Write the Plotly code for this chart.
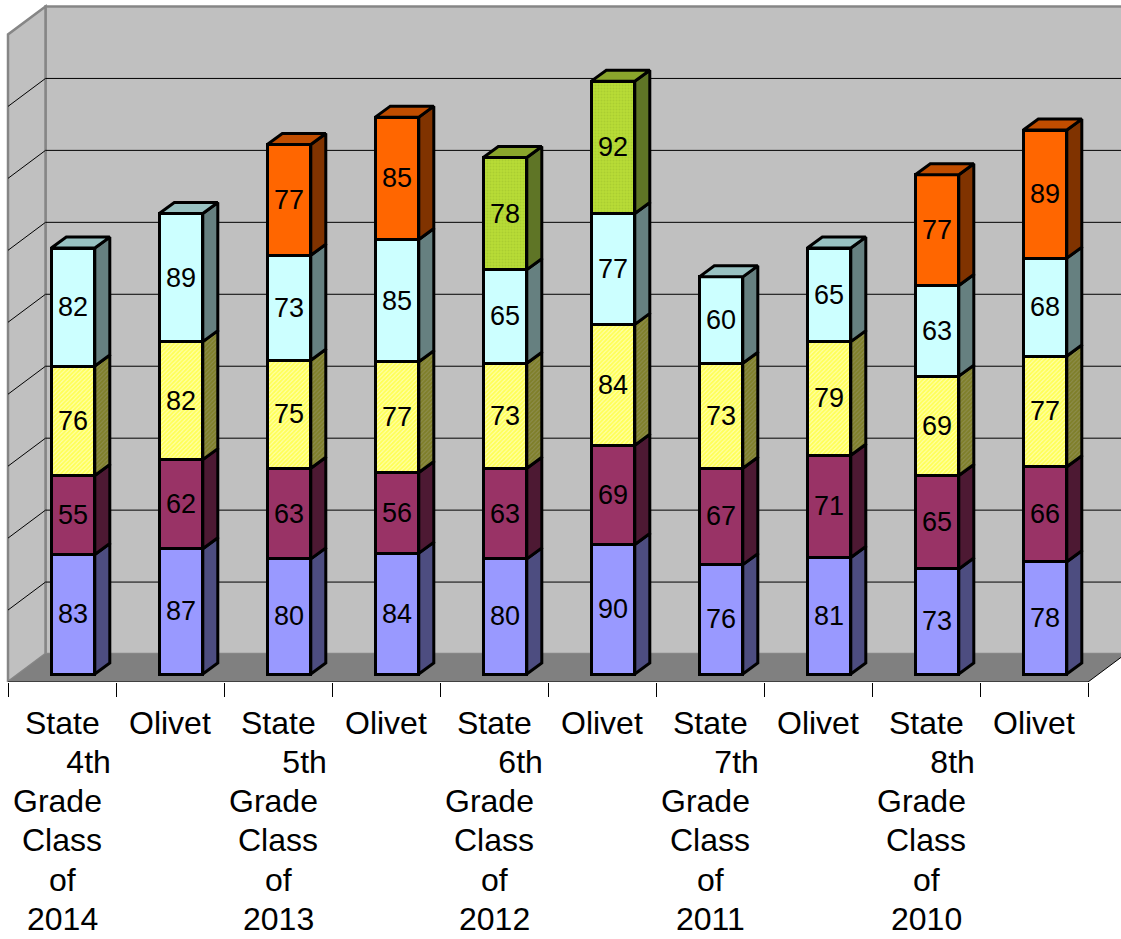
import plotly.graph_objects as go

# Axis label lines for the ten class/source slots
NB = "\u00a0" * 6
GRADE = "Grade\u00a0"
categories = [
    ["State", NB + "4th", GRADE, "Class", "of", "2014"], ["Olivet"],
    ["State", NB + "5th", GRADE, "Class", "of", "2013"], ["Olivet"],
    ["State", NB + "6th", GRADE, "Class", "of", "2012"], ["Olivet"],
    ["State", NB + "7th", GRADE, "Class", "of", "2011"], ["Olivet"],
    ["State", NB + "8th", GRADE, "Class", "of", "2010"], ["Olivet"],
]

# Stacked scores, bottom to top
blue = [83, 87, 80, 84, 80, 90, 76, 81, 73, 78]
plum = [55, 62, 63, 56, 63, 69, 67, 71, 65, 66]
yellow = [76, 82, 75, 77, 73, 84, 73, 79, 69, 77]
cyan = [82, 89, 73, 85, 65, 77, 60, 65, 63, 68]
orange = [None, None, 77, 85, None, None, None, None, 77, 89]
green = [None, None, None, None, 78, 92, None, None, None, None]

series = [
    dict(values=blue, front="#9999FF", side="#4D4D80", top="#7A7ACC"),
    dict(values=plum, front="#993366", side="#4D1933", top="#7A2952"),
    dict(values=yellow, front="#FFFF66", side="#808040", top="#CCCC66",
         pattern=dict(shape="/", size=3, solidity=0.65, fgcolor="#FFFF00", bgcolor="#FFFFB0"),
         side_pattern=dict(shape="/", size=3, solidity=0.7, fgcolor="#707000", bgcolor="#8F8F55")),
    dict(values=cyan, front="#CCFFFF", side="#668080", top="#99C2C2"),
    dict(values=orange, front="#FF6600", side="#803300", top="#C04D00"),
    dict(values=green, front="#B2D633", side="#5F7526", top="#8AA52C",
         pattern=dict(shape=".", size=3, solidity=0.35, fgcolor="#9DC02C", bgcolor="#B7DC36")),
]

# Scale of the plot: pixels per category slot and per score unit
W, H = 1121, 939
SLOT = 108.0
UNIT = 1.44
AXIS_PX = 682.5
ZERO_PX = 674.5
LEFT_PX = 8.0

# Oblique projection of the box and of each column
WALL_DX = 37.5 / SLOT
WALL_DY = 28.0 / UNIT
BAR_DX = 15.0 / SLOT
BAR_DY = 11.0 / UNIT
BAR_OFFSET = -10.7 / SLOT
BAR_WIDTH = 43.5 / SLOT
Y_MAX = 450
GRID_STEP = 50

# Axis label layout
LABEL_FIRST_PX = 723.5
LABEL_STEP_PX = 39.2
LABEL_SIZE = 32

x_lo = -0.5 - LEFT_PX / SLOT
x_hi = -0.5 + (W - LEFT_PX) / SLOT
y_lo = (ZERO_PX - AXIS_PX) / UNIT
y_hi = ZERO_PX / UNIT
front_y = y_lo
back_y = front_y + WALL_DY
x0, x1 = -0.5, 9.5


def path(points):
    return "M " + " L ".join(f"{x:.4f},{y:.4f}" for x, y in points) + " Z"


wall_line = dict(color="#868686", width=2.5)
shapes = [
    # back wall, left wall, floor
    dict(type="path", layer="below", fillcolor="#C0C0C0", line=wall_line,
         path=path([(x0 + WALL_DX, back_y), (x0 + WALL_DX, back_y + Y_MAX),
                    (x1 + WALL_DX, back_y + Y_MAX), (x1 + WALL_DX, back_y)])),
    dict(type="path", layer="below", fillcolor="#C0C0C0", line=wall_line,
         path=path([(x0, front_y), (x0, front_y + Y_MAX),
                    (x0 + WALL_DX, back_y + Y_MAX), (x0 + WALL_DX, back_y)])),
    dict(type="path", layer="below", fillcolor="#808080", line=dict(width=0),
         path=path([(x0, front_y), (x1, front_y),
                    (x1 + WALL_DX, back_y), (x0 + WALL_DX, back_y)])),
    dict(type="line", layer="below", x0=x1, y0=front_y, x1=x1 + WALL_DX, y1=back_y,
         line=dict(color="#000000", width=1)),
    dict(type="line", layer="below", x0=x0, x1=x1, y0=front_y, y1=front_y,
         line=dict(color="#000000", width=1)),
]
# Gridlines run along the back wall and down the left wall
for v in range(GRID_STEP, Y_MAX, GRID_STEP):
    shapes.append(dict(type="line", layer="below", x0=x0 + WALL_DX, x1=x1 + WALL_DX,
                       y0=back_y + v, y1=back_y + v, line=dict(color="#000000", width=1)))
    shapes.append(dict(type="line", layer="below", x0=x0, x1=x0 + WALL_DX,
                       y0=front_y + v, y1=back_y + v, line=dict(color="#000000", width=1)))

fig = go.Figure()
slots = list(range(len(blue)))

for s in series:
    fig.add_trace(go.Bar(
        x=slots, y=s["values"], offset=BAR_OFFSET, width=BAR_WIDTH,
        marker=dict(color=s["front"], line=dict(color="black", width=3),
                    pattern=s.get("pattern", dict(shape=""))),
        texttemplate="%{y}", textposition="inside", insidetextanchor="middle",
        textangle=0, constraintext="none",
        insidetextfont=dict(family="Liberation Sans", size=27, color="black"),
        hoverinfo="skip", showlegend=False,
    ))

# Side and top faces follow the same cumulative stack as the bars
totals = [0.0] * len(blue)
column_tops = {}
for s in series:
    xs, ys = [], []
    for i, v in enumerate(s["values"]):
        if v is None:
            continue
        lo, hi = totals[i], totals[i] + v
        totals[i] = hi
        right = i + BAR_OFFSET + BAR_WIDTH
        xs += [right, right + BAR_DX, right + BAR_DX, right, right, None]
        ys += [lo, lo + BAR_DY, hi + BAR_DY, hi, lo, None]
        column_tops[i] = (s, hi)
    extra = dict(fillpattern=s["side_pattern"]) if "side_pattern" in s else {}
    fig.add_trace(go.Scatter(x=xs, y=ys, mode="lines", fill="toself", fillcolor=s["side"],
                             line=dict(color="black", width=3), hoverinfo="skip",
                             showlegend=False, cliponaxis=False, **extra))

for i, (s, hi) in column_tops.items():
    left = i + BAR_OFFSET
    right = left + BAR_WIDTH
    fig.add_trace(go.Scatter(
        x=[left, right, right + BAR_DX, left + BAR_DX, left],
        y=[hi, hi, hi + BAR_DY, hi + BAR_DY, hi],
        mode="lines", fill="toself", fillcolor=s["top"],
        line=dict(color="black", width=3), hoverinfo="skip", showlegend=False,
    ))

# Category labels are stacked line by line at a fixed leading
annotations = []
for i, lines in enumerate(categories):
    for k, line in enumerate(lines):
        py = LABEL_FIRST_PX + k * LABEL_STEP_PX
        annotations.append(dict(
            x=i, xref="x", y=(AXIS_PX - py) / AXIS_PX, yref="paper",
            text=line, showarrow=False, xanchor="center", yanchor="middle",
            font=dict(family="Liberation Sans", size=LABEL_SIZE, color="black"),
        ))

fig.update_layout(
    width=W, height=H, margin=dict(l=0, r=0, t=0, b=H - AXIS_PX, pad=0),
    paper_bgcolor="white", plot_bgcolor="white",
    barmode="stack", shapes=shapes, annotations=annotations, showlegend=False,
    xaxis=dict(
        range=[x_lo, x_hi], showgrid=False, zeroline=False, showline=False,
        tickmode="array", tickvals=slots, showticklabels=False, ticks="",
        minor=dict(tickmode="array", tickvals=[k - 0.5 for k in range(len(blue) + 1)],
                   ticks="outside", ticklen=14, tickwidth=1, tickcolor="#000000", showgrid=False),
    ),
    yaxis=dict(range=[y_lo, y_hi], visible=False, showgrid=False, zeroline=False),
)

fig.write_html("out.html")
